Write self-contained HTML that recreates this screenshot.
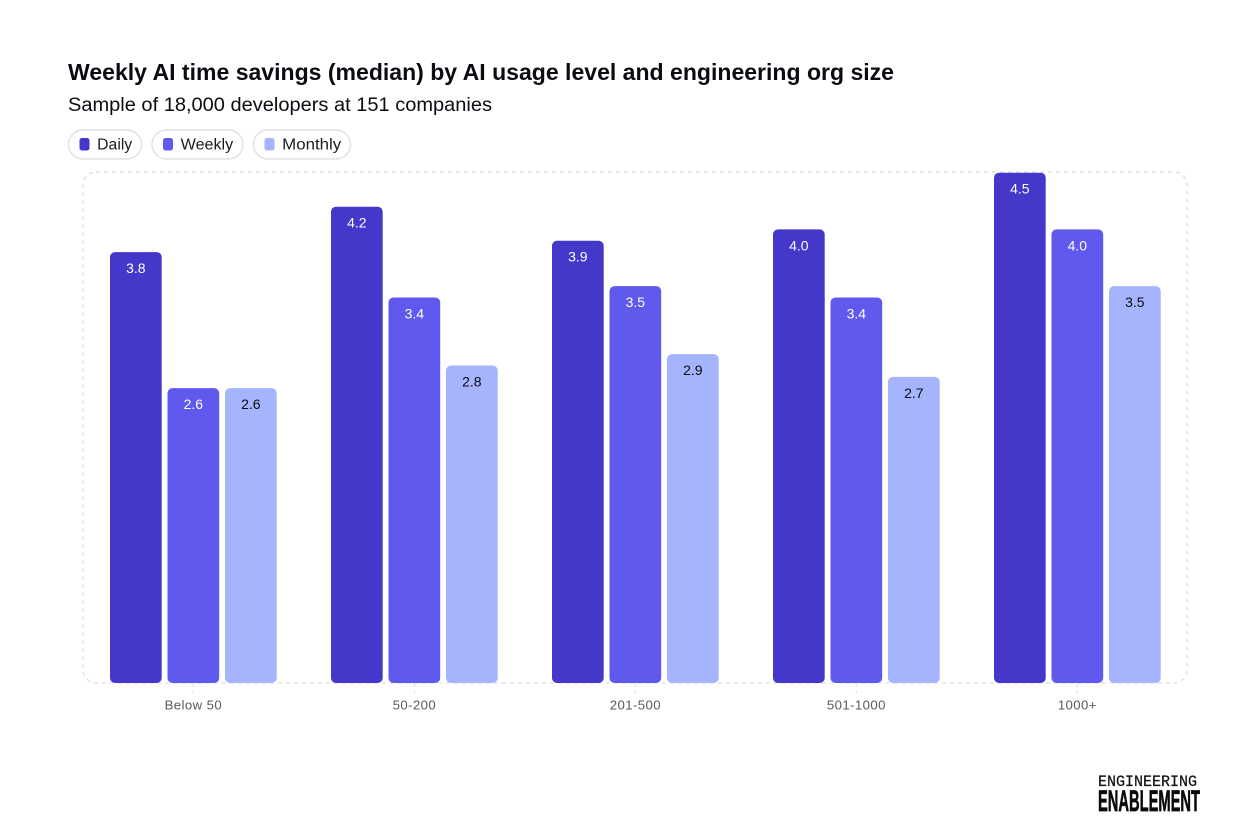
<!DOCTYPE html>
<html lang="en">
<head>
<meta charset="utf-8">
<title>Weekly AI time savings</title>
<style>
html,body{margin:0;padding:0;background:#fff;width:1250px;height:833px;overflow:hidden}
svg{display:block}
text{font-family:"Liberation Sans",sans-serif}
</style>
</head>
<body>
<svg id="chart" width="1250" height="833" viewBox="0 0 1250 833">
  <rect width="1250" height="833" fill="#ffffff"/>
  <text x="68" y="80" font-size="23.2" font-weight="700" fill="#0b0b12" textLength="826" lengthAdjust="spacingAndGlyphs">Weekly AI time savings (median) by AI usage level and engineering org size</text>
  <text x="68" y="111" font-size="19" fill="#0b0b12" textLength="424" lengthAdjust="spacingAndGlyphs">Sample of 18,000 developers at 151 companies</text>
  <g id="legend"></g>
  <rect x="83" y="172" width="1104" height="511" rx="13" fill="none" stroke="#dcdcdf" stroke-width="1.2" stroke-dasharray="4 4"/>
  <g id="bars"></g>
  <g id="xaxis"></g>
  <g>
    <text x="1098" y="786" font-size="15.5" fill="#111" stroke="#111" stroke-width="0.25" style="font-family:'Liberation Mono',monospace" textLength="99" lengthAdjust="spacingAndGlyphs">ENGINEERING</text>
    <text x="1098" y="811" font-size="30" font-weight="700" fill="#0a0a0a" stroke="#0a0a0a" stroke-width="0.7" textLength="102" lengthAdjust="spacingAndGlyphs">ENABLEMENT</text>
  </g>
</svg>
<script>
const categories = ["Below 50", "50-200", "201-500", "501-1000", "1000+"];
const seriesNames = ["Daily", "Weekly", "Monthly"];
const daily = [3.8, 4.2, 3.9, 4.0, 4.5];
const weekly = [2.6, 3.4, 3.5, 3.4, 4.0];
const monthly = [2.6, 2.8, 2.9, 2.7, 3.5];

const allSeries = [daily, weekly, monthly];
const fills = ["#4338ca", "#6059ee", "#a5b4fc"];
const labelColors = ["#ffffff", "#ffffff", "#0b0b12"];
const NS = "http://www.w3.org/2000/svg";

const baseY = 683;
const unitPx = 113.4;
function yScale(v) { return baseY - v * unitPx; }
function groupX(i) { return 110 + i * 221; }
function barX(i, s) { return groupX(i) + s * 57.5; }
const barW = 51.7;

function make(tag, attrs, text) {
  const el = document.createElementNS(NS, tag);
  for (const k in attrs) el.setAttribute(k, attrs[k]);
  if (text !== undefined) el.textContent = text;
  return el;
}

const barsG = document.getElementById("bars");
allSeries.forEach(function (vals, s) {
  vals.forEach(function (v, i) {
    const x = barX(i, s), y = yScale(v);
    const h = baseY - y;
    const r = make("path", {
      d: "M" + x + " " + (y + 5) + "a5 5 0 0 1 5 -5h" + (barW - 10) + "a5 5 0 0 1 5 5v" + (h - 10) + "a5 5 0 0 1 -5 5h-" + (barW - 10) + "a5 5 0 0 1 -5 -5z",
      fill: fills[s]
    });
    
    
    barsG.appendChild(r);
    const t = make("text", {
      x: x + barW / 2, y: y + 21, "text-anchor": "middle",
      "font-size": 14, fill: labelColors[s]
    }, v.toFixed(1));
    
    
    barsG.appendChild(t);
  });
});

const axisG = document.getElementById("xaxis");
categories.forEach(function (c, i) {
  const cx = barX(i, 1) + barW / 2;
  const tick = make("line", {
    x1: cx, x2: cx, y1: 684, y2: 694, stroke: "#dcdcdf",
    "stroke-width": 1, "stroke-dasharray": "3 3"
  });
  
  
  axisG.appendChild(tick);
  const t = make("text", {
    x: cx, y: 709.5, "text-anchor": "middle", "font-size": 13.2,
    "letter-spacing": 0.4, fill: "#5a5a5f"
  }, c);
  
  
  axisG.appendChild(t);
});

const pillX = [68.5, 152, 253.5];
const pillW = [73, 91, 97];
const legendTextW = [35, 52.5, 59];
const legendG = document.getElementById("legend");
seriesNames.forEach(function (n, i) {
  const g = make("g", {});
  
  
  g.appendChild(make("rect", {
    x: pillX[i], y: 130, width: pillW[i], height: 29, rx: 14.5,
    fill: "#fff", stroke: "#e0e0e2", "stroke-width": 1.4
  }));
  g.appendChild(make("rect", {
    x: pillX[i] + 11, y: 138, width: 10, height: 12.5, rx: 2.5, fill: fills[i]
  }));
  g.appendChild(make("text", {
    x: pillX[i] + 28.7, y: 149.5, "font-size": 15.5, fill: "#1c1c22",
    textLength: legendTextW[i], lengthAdjust: "spacingAndGlyphs"
  }, n));
  legendG.appendChild(g);
});
</script>
</body>
</html>
